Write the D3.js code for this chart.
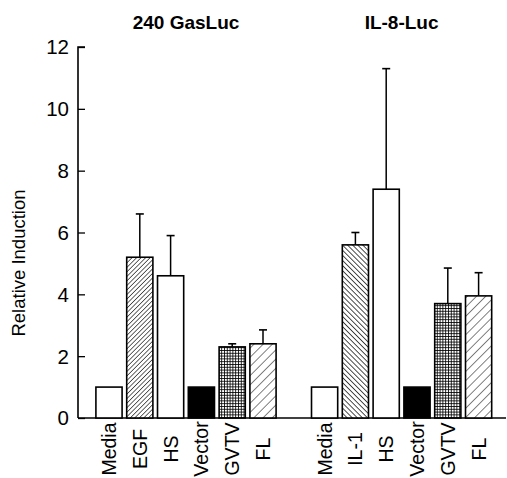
<!DOCTYPE html>
<html>
<head>
<meta charset="utf-8">
<script src="https://d3js.org/d3.v7.min.js"></script>
<style>
  html, body { margin: 0; padding: 0; background: #fff; }
  svg { display: block; font-family: "Liberation Sans", Arial, Helvetica, sans-serif; }
</style>
</head>
<body>
<script>
// ---- data ----
const groupTitles = ["240 GasLuc", "IL-8-Luc"];
const categories1 = ["Media", "EGF", "HS", "Vector", "GVTV", "FL"];
const values1 = [1, 5.2, 4.6, 1, 2.3, 2.4];
const errors1 = [0, 1.4, 1.3, 0, 0.1, 0.45];
const categories2 = ["Media", "IL-1", "HS", "Vector", "GVTV", "FL"];
const values2 = [1, 5.6, 7.4, 1, 3.7, 3.95];
const errors2 = [0, 0.4, 3.9, 0, 1.15, 0.75];
const yTicks = [0, 2, 4, 6, 8, 10, 12];
const yLabel = "Relative Induction";

// ---- style (by category) ----
const fillOf = {
  "Media": "#fff", "EGF": "url(#hatchFine)", "HS": "#fff", "Vector": "#000",
  "GVTV": "url(#grid)", "FL": "url(#hatchWide)", "IL-1": "url(#backHatch)"
};

const W = 507, H = 478;
const svg = d3.select("body").append("svg").attr("width", W).attr("height", H);

// patterns
const defs = svg.append("defs");
const p1 = defs.append("pattern").attr("id", "hatchFine").attr("patternUnits", "userSpaceOnUse")
  .attr("width", 3.2).attr("height", 3.2).attr("patternTransform", "rotate(45)");
p1.append("rect").attr("width", 3.2).attr("height", 3.2).attr("fill", "#fff");
p1.append("line").attr("x1", 0).attr("y1", 0).attr("x2", 0).attr("y2", 3.2).attr("stroke", "#000").attr("stroke-width", 1.2);

const p2 = defs.append("pattern").attr("id", "backHatch").attr("patternUnits", "userSpaceOnUse")
  .attr("width", 3.6).attr("height", 3.6).attr("patternTransform", "rotate(-45)");
p2.append("rect").attr("width", 3.6).attr("height", 3.6).attr("fill", "#fff");
p2.append("line").attr("x1", 0).attr("y1", 0).attr("x2", 0).attr("y2", 3.6).attr("stroke", "#000").attr("stroke-width", 1.4);

const p3 = defs.append("pattern").attr("id", "hatchWide").attr("patternUnits", "userSpaceOnUse")
  .attr("width", 6.5).attr("height", 6.5).attr("patternTransform", "rotate(45)");
p3.append("rect").attr("width", 6.5).attr("height", 6.5).attr("fill", "#fff");
p3.append("line").attr("x1", 0).attr("y1", 0).attr("x2", 0).attr("y2", 6.5).attr("stroke", "#000").attr("stroke-width", 1);

const p4 = defs.append("pattern").attr("id", "grid").attr("patternUnits", "userSpaceOnUse")
  .attr("width", 2.8).attr("height", 2.8);
p4.append("rect").attr("width", 2.8).attr("height", 2.8).attr("fill", "#fff");
p4.append("path").attr("d", "M0,0.4H2.8M0.4,0V2.8").attr("stroke", "#000").attr("stroke-width", 0.9);

// scales
const keys = categories1.map(c => "a-" + c).concat(["gap"], categories2.map(c => "b-" + c));
const x = d3.scaleBand().domain(keys).range([93.6, 494]).paddingInner(0.15).paddingOuter(0.075);
const y = d3.scaleLinear().domain([0, 12]).range([418, 47]);

const bars = categories1.map((c, i) => ({ key: "a-" + c, cat: c, v: values1[i], e: errors1[i] }))
  .concat(categories2.map((c, i) => ({ key: "b-" + c, cat: c, v: values2[i], e: errors2[i] })));

// y axis
const yAxis = d3.axisRight(y).tickValues(yTicks).tickSize(7).tickFormat("");
const ya = svg.append("g").attr("transform", "translate(78,0)").call(yAxis);
ya.select(".domain").attr("stroke", "#000").attr("stroke-width", 1.6).attr("d", `M7,${y(12)}H0V${y(0)}`);
ya.selectAll(".tick line").attr("stroke-width", 1.3);
svg.append("g").selectAll("text").data(yTicks).join("text")
  .attr("x", 69).attr("y", d => y(d)).attr("dy", "0.36em")
  .attr("text-anchor", "end").attr("font-size", 20.5).text(d => d);

// x baseline
svg.append("line").attr("x1", 78).attr("x2", 506).attr("y1", y(0)).attr("y2", y(0))
  .attr("stroke", "#000").attr("stroke-width", 1.6);

// error bars
const eb = svg.append("g").selectAll("g").data(bars.filter(d => d.e > 0)).join("g");
eb.append("line")
  .attr("x1", d => x(d.key) + x.bandwidth() / 2).attr("x2", d => x(d.key) + x.bandwidth() / 2)
  .attr("y1", d => y(d.v)).attr("y2", d => y(d.v + d.e))
  .attr("stroke", "#000").attr("stroke-width", 1.5);
eb.append("line")
  .attr("x1", d => x(d.key) + x.bandwidth() / 2 - 4).attr("x2", d => x(d.key) + x.bandwidth() / 2 + 4)
  .attr("y1", d => y(d.v + d.e)).attr("y2", d => y(d.v + d.e))
  .attr("stroke", "#000").attr("stroke-width", 1.6);

// bars
svg.append("g").selectAll("rect").data(bars).join("rect")
  .attr("x", d => x(d.key)).attr("width", x.bandwidth())
  .attr("y", d => y(d.v)).attr("height", d => y(0) - y(d.v))
  .attr("fill", d => fillOf[d.cat]).attr("stroke", "#000").attr("stroke-width", 1.6);

// x labels
svg.append("g").selectAll("text").data(bars).join("text")
  .attr("transform", d => `translate(${x(d.key) + x.bandwidth() / 2},449) rotate(-90)`)
  .attr("dy", "0.36em").attr("text-anchor", "middle").attr("font-size", 19.5)
  .text(d => d.cat);

// titles
const g1c = (x("a-Media") + x("a-FL") + x.bandwidth()) / 2;
const g2c = (x("b-Media") + x("b-FL") + x.bandwidth()) / 2;
svg.append("g").selectAll("text").data(groupTitles).join("text")
  .attr("x", (d, i) => i === 0 ? g1c : g2c).attr("y", 29)
  .attr("text-anchor", "middle").attr("font-size", 19).attr("font-weight", "bold")
  .text(d => d);

// y label
svg.append("text").attr("transform", "translate(25,263) rotate(-90)")
  .attr("text-anchor", "middle").attr("font-size", 18.5).text(yLabel);
</script>
</body>
</html>
